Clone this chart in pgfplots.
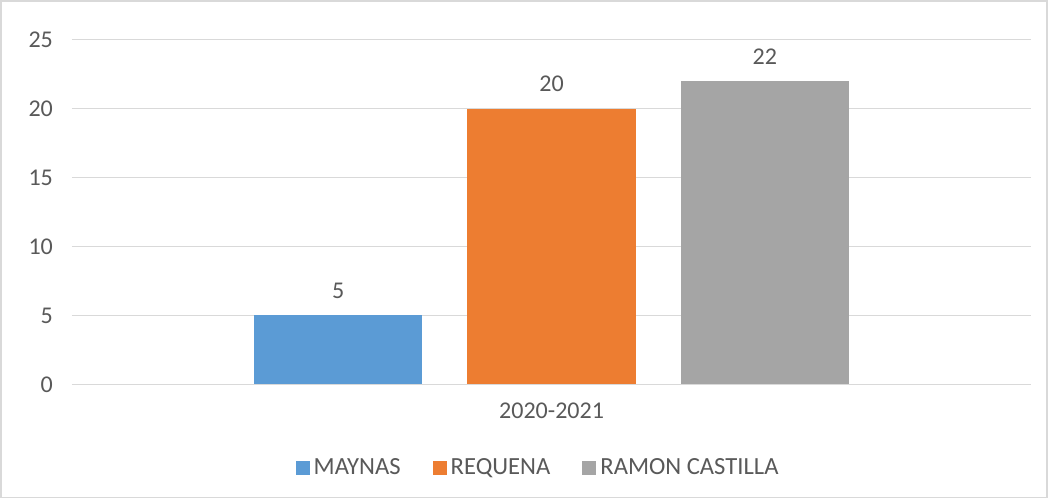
\documentclass[border=0pt]{standalone}
\usepackage{pgfplots}
\pgfplotsset{compat=1.18}
\usepackage{fontspec}
\setmainfont{Carlito}
\definecolor{cblue}{HTML}{5B9BD5}
\definecolor{corange}{HTML}{ED7D31}
\definecolor{cgray}{HTML}{A5A5A5}
\definecolor{ctext}{HTML}{595959}
\definecolor{cgrid}{HTML}{D9D9D9}
\begin{document}
\begin{tikzpicture}
\begin{axis}[
  scale only axis,
  width=479pt, height=172pt,
  ybar=22.5pt, bar width=84pt,
  xmin=-1, xmax=1,
  ymin=0, ymax=25,
  ytick={0,5,10,15,20,25},
  xtick={0}, xticklabels={2020-2021},
  axis line style={draw=none},
  major tick length=0pt,
  ymajorgrids, grid style={cgrid, line width=0.6pt},
  ticklabel style={font=\fontsize{12}{14}\selectfont, text=ctext},
  yticklabel style={xshift=-6pt},
  xticklabel style={yshift=-6pt},
  /pgf/number format/assume math mode=true,
  nodes near coords,
  nodes near coords style={font=\fontsize{12}{14}\selectfont, text=ctext, yshift=5pt},
  legend style={at={(0.487,-0.244)}, anchor=center, draw=none, legend columns=-1,
    font=\fontsize{12.3}{14}\selectfont, text=ctext,
    /tikz/every even column/.append style={column sep=14pt}},
  legend image code/.code={\fill[#1] (0pt,-3.5pt) rectangle (7pt,3.5pt);},
  clip=false,
]
\addplot[fill=cblue, draw=none] coordinates {(0,5)};
\addplot[fill=corange, draw=none] coordinates {(0,20)};
\addplot[fill=cgray, draw=none] coordinates {(0,22)};
\legend{MAYNAS, REQUENA, RAMON CASTILLA}
\coordinate (ll) at (rel axis cs:-0.0742,-0.329);
\coordinate (ur) at (rel axis cs:1.0167,1.1134);
\end{axis}
\draw[cgrid, line width=0.8pt] (ll) rectangle (ur);
\end{tikzpicture}
\end{document}
